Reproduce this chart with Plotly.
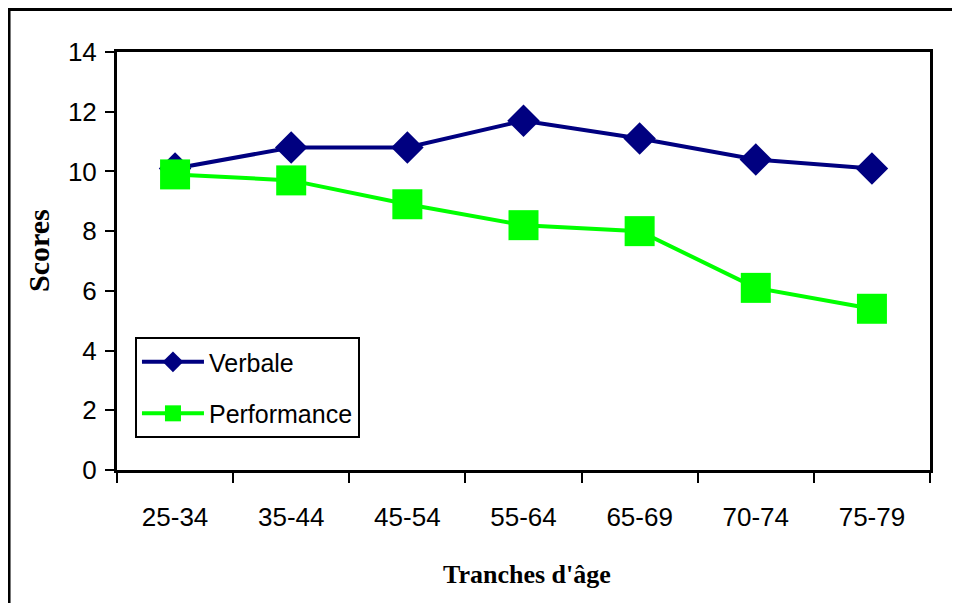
import plotly.graph_objects as go

categories = ["25-34", "35-44", "45-54", "55-64", "65-69", "70-74", "75-79"]
verbale = [10.1, 10.8, 10.8, 11.7, 11.1, 10.4, 10.1]
performance = [9.9, 9.7, 8.9, 8.2, 8.0, 6.1, 5.4]
y_ticks = [0, 2, 4, 6, 8, 10, 12, 14]

fig = go.Figure()
fig.add_trace(go.Scatter(
    x=categories, y=verbale, name="Verbale", mode="lines+markers",
    line=dict(color="#000080", width=4),
    marker=dict(symbol="diamond", size=25, color="#000080"),
    legendgroup="v",
))
fig.add_trace(go.Scatter(
    x=categories, y=performance, name="Performance", mode="lines+markers",
    line=dict(color="#00FF00", width=4),
    marker=dict(symbol="square", size=30, color="#00FF00"),
    legendgroup="p",
))

fig.update_layout(
    width=952, height=595,
    margin=dict(l=109, r=30, t=44, b=133),
    paper_bgcolor="white", plot_bgcolor="white",
    font=dict(family="Liberation Sans, Arial, sans-serif", size=25, color="black"),
    showlegend=True,
    legend=dict(
        x=0.0221, y=0.318, xanchor="left", yanchor="top",
        bgcolor="white", bordercolor="black", borderwidth=2,
        font=dict(size=25, family="Liberation Sans, Arial, sans-serif"),
        tracegroupgap=16, itemwidth=62,
    ),
    xaxis=dict(
        type="category", range=[-0.5, 6.5],
        showline=True, linecolor="black", linewidth=3, mirror=True,
        ticks="outside", tickson="boundaries", ticklen=10, tickwidth=2, tickcolor="black",
        showgrid=False, zeroline=False, ticklabelstandoff=22,
        tickfont=dict(size=26),
    ),
    yaxis=dict(
        range=[0, 14], tickvals=y_ticks,
        showline=True, linecolor="black", linewidth=3, mirror=True,
        ticks="outside", ticklen=9, tickwidth=2, tickcolor="black",
        showgrid=False, zeroline=False, ticklabelstandoff=3,
        tickfont=dict(size=26),
    ),
    annotations=[
        dict(text="<b>Tranches d'âge</b>", xref="paper", yref="paper",
             x=0.504, y=-0.249, xanchor="center", yanchor="middle", showarrow=False,
             font=dict(family="Liberation Serif, Times New Roman, serif", size=26)),
        dict(text="<b>Scores</b>", xref="paper", yref="paper",
             x=-0.0959, y=0.524, xanchor="center", yanchor="middle", showarrow=False,
             textangle=-90,
             font=dict(family="Liberation Serif, Times New Roman, serif", size=30)),
    ],
    shapes=[
        dict(type="rect", xref="paper", yref="paper",
             x0=-0.1328, x1=1.06, y0=-0.35, y1=1.1017,
             line=dict(color="black", width=3), fillcolor="rgba(0,0,0,0)", layer="below"),
    ],
)

fig.write_html("out.html")
